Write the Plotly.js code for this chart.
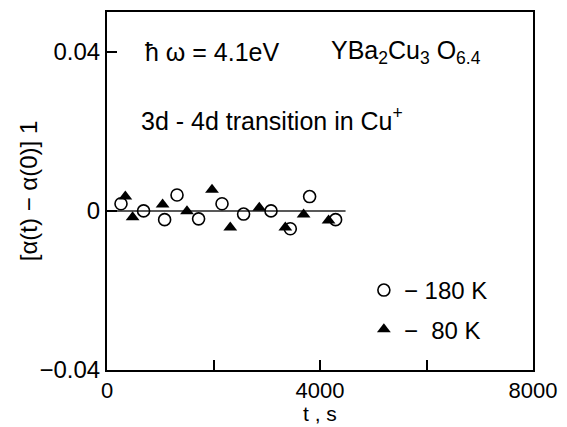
<!DOCTYPE html>
<html>
<head>
<meta charset="utf-8">
<script src="https://cdn.plot.ly/plotly-3.0.1.min.js"></script>
<style>
  html, body { margin: 0; padding: 0; background: #fff; }
  #chart { width: 567px; height: 427px; }
</style>
</head>
<body>
<div id="chart"></div>
<script>
// Relative absorption change vs. time, two temperatures
const time180 = [263, 687, 1082, 1315, 1720, 2160, 2565, 3080, 3442, 3805, 4293];
const alpha180 = [0.0018, 0.0000, -0.0022, 0.0040, -0.0020, 0.0018, -0.0008, 0.0000, -0.0045, 0.0036, -0.0022];

const time80 = [344, 481, 1044, 1502, 1972, 2315, 2860, 3349, 3692, 4161];
const alpha80 = [0.0036, -0.0016, 0.0016, -0.0001, 0.0053, -0.0042, 0.0008, -0.0042, -0.0009, -0.0024];

// zero reference line under the points
const baseT = [0, 4480];
const baseY = [0, 0];

const xTicks = [0, 2000, 4000, 6000, 8000];
const xTickText = ['0', '', '4000', '', '8000'];
const yTicks = [-0.04, 0, 0.04];
const yTickText = ['\u22120.04', '0', '0.04'];

const FONT = 'Liberation Sans, Arial, sans-serif';
const FS = 24;      // y ticks, titles, legend
const FS_X = 22;    // x tick labels
const FS_NOTE = 25; // in-plot notes

const traces = [
  {
    x: baseT, y: baseY, mode: 'lines', showlegend: false, hoverinfo: 'skip',
    line: { color: '#222', width: 1.5 }
  },
  {
    x: time180, y: alpha180, mode: 'markers', name: '\u2212 180 K',
    legendgroup: 'a',
    marker: { symbol: 'circle-open', size: 12, color: '#000', line: { width: 1.6, color: '#000' } }
  },
  {
    x: time80, y: alpha80, mode: 'markers', name: '\u2212  80 K',
    legendgroup: 'b',
    marker: { symbol: 'triangle-up', size: 12, color: '#000' }
  }
];

const layout = {
  width: 567, height: 427,
  margin: { l: 107, r: 34, t: 12, b: 57 },
  paper_bgcolor: '#fff', plot_bgcolor: '#fff',
  font: { family: FONT, size: FS, color: '#000' },
  showlegend: true,
  legend: {
    x: 0.603, y: 0.285, xanchor: 'left', yanchor: 'top',
    font: { family: FONT, size: FS, color: '#000' },
    bgcolor: 'rgba(0,0,0,0)', borderwidth: 0,
    traceorder: 'grouped', tracegroupgap: 5, itemwidth: 30
  },
  xaxis: {
    range: [0, 8000], tickmode: 'array', tickvals: xTicks, ticktext: xTickText,
    ticks: 'inside', ticklen: 10, tickwidth: 2, tickcolor: '#000',
    showline: true, linewidth: 2, linecolor: '#000', mirror: true,
    showgrid: false, zeroline: false,
    tickfont: { family: FONT, size: FS_X }
  },
  yaxis: {
    range: [-0.04, 0.05], tickmode: 'array', tickvals: yTicks, ticktext: yTickText,
    ticks: 'inside', ticklen: 10, tickwidth: 2, tickcolor: '#000',
    showline: true, linewidth: 2, linecolor: '#000', mirror: true,
    showgrid: false, zeroline: false,
    tickfont: { family: FONT, size: FS }
  },
  annotations: [
    {
      // horizontal axis label, tucked under the tick labels
      xref: 'paper', yref: 'paper', x: 0.5, y: -0.157, xanchor: 'center', yanchor: 'bottom',
      text: 't , s', showarrow: false, font: { family: FONT, size: 21 }, borderpad: 0
    },
    {
      // vertical axis label, set close to the frame
      xref: 'paper', yref: 'paper', x: -0.185, y: 0.5, xanchor: 'center', yanchor: 'middle',
      textangle: -90, text: '[\u03b1(t) \u2212 \u03b1(0)] 1', showarrow: false,
      font: { family: FONT, size: FS }
    },
    {
      xref: 'paper', yref: 'paper', x: 0.085, y: 0.887, xanchor: 'left', yanchor: 'middle',
      text: '\u0127 \u03c9 = 4.1eV', showarrow: false, font: { family: FONT, size: FS_NOTE }
    },
    {
      xref: 'paper', yref: 'paper', x: 0.52, y: 0.887, xanchor: 'left', yanchor: 'middle',
      text: 'YBa<sub>2</sub>Cu<sub>3</sub> O<sub>6.4</sub>', showarrow: false, font: { family: FONT, size: FS_NOTE }
    },
    {
      xref: 'paper', yref: 'paper', x: 0.075, y: 0.7, xanchor: 'left', yanchor: 'middle',
      text: '3d - 4d transition in Cu<sup>+</sup>', showarrow: false, font: { family: FONT, size: FS_NOTE }
    }
  ]
};

Plotly.newPlot('chart', traces, layout, { displayModeBar: false, staticPlot: true });
</script>
</body>
</html>
